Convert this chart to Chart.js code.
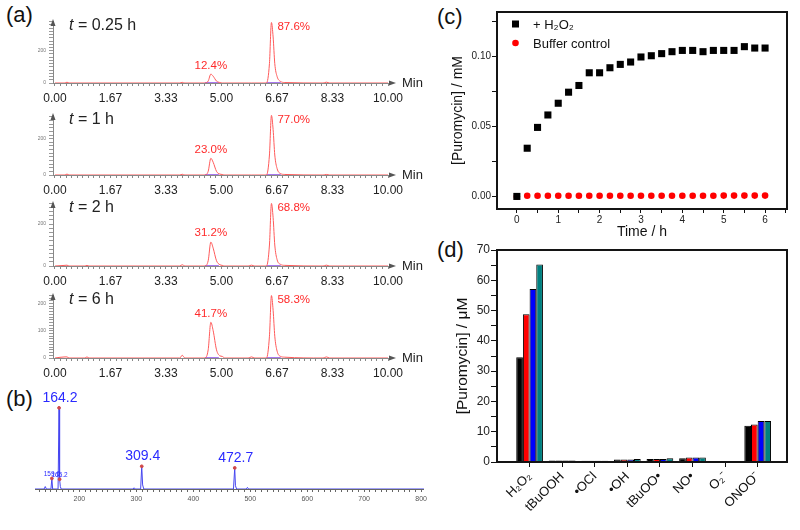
<!DOCTYPE html>
<html>
<head>
<meta charset="utf-8">
<script src="https://cdn.jsdelivr.net/npm/chart.js@4.4.0/dist/chart.umd.min.js"></script>
<style>
  html, body { margin: 0; padding: 0; background: #fff; }
  #fig { position: relative; width: 800px; height: 530px; overflow: hidden;
         font-family: "Liberation Sans", Arial, sans-serif; }
  #fig canvas { position: absolute; }
  .tag { position: absolute; font-size: 22px; line-height: 1; color: #111; }
</style>
</head>
<body>
<div id="fig">
  <div class="tag" style="left:6px;top:4px">(a)</div>
  <div class="tag" style="left:6px;top:388px">(b)</div>
  <div class="tag" style="left:437px;top:6px">(c)</div>
  <div class="tag" style="left:437px;top:239px">(d)</div>

  <canvas id="chrom0" width="430" height="94" style="left:0;top:11px"></canvas>
  <canvas id="chrom1" width="430" height="92" style="left:0;top:105px"></canvas>
  <canvas id="chrom2" width="430" height="95" style="left:0;top:193px"></canvas>
  <canvas id="chrom3" width="430" height="95" style="left:0;top:285px"></canvas>
  <canvas id="spectrum" width="430" height="113" style="left:0;top:392px"></canvas>
  <canvas id="panelC" width="380" height="245" style="left:420px;top:0"></canvas>
  <canvas id="panelD" width="380" height="290" style="left:420px;top:240px"></canvas>
</div>

<script>
/* ---------- (a) HPLC traces ---------- */
const CHROM_TIME = [0, 0.3, 0.36, 0.42, 0.9, 0.96, 1.02, 3.75, 3.82, 3.9,
  4.5, 4.6, 4.68, 4.75, 4.85, 4.95, 5.02, 5.1, 5.8, 5.9, 6.0,
  6.35, 6.44, 6.5, 6.55, 6.6, 6.67, 6.77, 6.9, 8.05, 8.15, 8.25, 10];
const TRACE_025H = [0, 0, 5, 0, 0, 0, 0, 0, 4, 0, 0, 12, 55, 42, 12, 3, 0, 0, 0, 0, 0, 0, 120, 375, 285, 120, 40, 10, 3, 0, 5, 0, 0];
const TRACE_1H   = [0, 0, 5, 0, 0, 0, 0, 0, 4, 0, 0, 20, 92, 70, 20, 5, 3, 0, 0, 0, 0, 0, 110, 328, 250, 110, 35, 8, 3, 0, 3, 0, 0];
const TRACE_2H   = [0, 3, 4, 0, 0, 3, 0, 0, 6, 0, 0, 25, 114, 85, 25, 6, 3, 0, 0, 4, 0, 0, 100, 298, 230, 100, 30, 8, 3, 0, 4, 0, 0];
const TRACE_6H   = [0, 4, 4, 0, 0, 4, 0, 0, 10, 0, 0, 30, 131, 100, 30, 8, 6, 0, 0, 4, 0, 0, 80, 229, 175, 80, 25, 6, 3, 0, 4, 0, 0];
const TRACES = [TRACE_025H, TRACE_1H, TRACE_2H, TRACE_6H];
const TRACE_HOURS = ['0.25', '1', '2', '6'];
const PEAK1_PCT = ['12.4%', '23.0%', '31.2%', '41.7%'];
const PEAK2_PCT = ['87.6%', '77.0%', '68.8%', '58.3%'];
const PEAK_TIMES = [4.68, 6.5];
const INTEG_WINDOWS = [[4.5, 4.92], [6.35, 6.78]];
const CHROM_X_LABELS = ['0.00', '1.67', '3.33', '5.00', '6.67', '8.33', '10.00'];
const CHROM_Y_MAX = [384, 330, 300, 231];
const CHROM_Y_MINOR = [20, 20, 20, 10];
const CHROM_Y_LABEL_STEP = [200, 200, 200, 100];

/* ---------- (b) mass spectrum ---------- */
const MS_MZ  = [122, 138, 140, 142, 150, 151.6, 153, 162.5, 164.2, 165.2, 166.5, 168, 294, 296, 298, 307.5, 309.4, 311, 313, 470.5, 472.7, 474, 476, 493, 495, 497, 805];
const MS_INT = [0, 0, 3, 0, 0, 13, 0, 0, 100, 12, 3, 0, 0, 1.5, 0, 0, 28, 5, 0, 0, 26, 4, 0, 0, 2, 0, 0];
const MS_PEAK_MZ = [151.6, 164.2, 165.2, 309.4, 472.7];
const MS_PEAK_INT = [13, 100, 12, 28, 26];
const MS_PEAK_LABELS = ['159.6', '164.2', '165.2', '309.4', '472.7'];
const MS_X_LABELS = ['200', '300', '400', '500', '600', '700', '800'];

/* ---------- (c) kinetics ---------- */
const TIME_H = [0, 0.25, 0.5, 0.75, 1, 1.25, 1.5, 1.75, 2, 2.25, 2.5, 2.75, 3, 3.25, 3.5, 3.75, 4, 4.25, 4.5, 4.75, 5, 5.25, 5.5, 5.75, 6];
const H2O2_MM = [0, 0.0345, 0.0494, 0.0583, 0.0667, 0.0746, 0.0794, 0.0885, 0.0885, 0.0921, 0.0945, 0.0962, 0.0998,
  0.1007, 0.1022, 0.1036, 0.1045, 0.1045, 0.1036, 0.1045, 0.1045, 0.1045, 0.1072, 0.1062, 0.1062];
const BUFFER_MM = [0, 0.0005, 0.0005, 0.0005, 0.0005, 0.0005, 0.0005, 0.0005, 0.0005, 0.0005, 0.0005, 0.0005, 0.0005,
  0.0005, 0.0005, 0.0005, 0.0005, 0.0005, 0.0005, 0.0005, 0.0006, 0.0006, 0.0006, 0.0006, 0.0006];
const C_Y_LABELS = ['0.00', '0.05', '0.10'];

/* ---------- (d) selectivity ---------- */
const ANALYTES = ['H\u2082O\u2082', 'tBuOOH', '\u2022OCl', '\u2022OH', 'tBuOO\u2022', 'NO\u2022', 'O\u2082\u207B', 'ONOO\u207B'];
const SET_1 = [34.6, 0.5, 0.4, 0.8, 1.0, 1.2, 0.3, 12.0];
const SET_2 = [48.8, 0.5, 0.4, 0.8, 1.0, 1.5, 0.3, 12.4];
const SET_3 = [57.1, 0.5, 0.4, 0.8, 1.0, 1.5, 0.3, 13.5];
const SET_4 = [65.2, 0.5, 0.4, 1.0, 1.2, 1.5, 0.3, 13.5];
const BAR_SETS = [SET_1, SET_2, SET_3, SET_4];
const BAR_SET_NAMES = ['Set 1', 'Set 2', 'Set 3', 'Set 4'];
const BAR_COLORS = ['#000000', '#ff0000', '#0000ff', '#008080'];

const FONT = '"Liberation Sans", Arial, sans-serif';

function range(min, max, step) {
  const out = [];
  const n = Math.round((max - min) / step);
  for (let i = 0; i <= n; i++) out.push(+(min + i * step).toFixed(6));
  return out;
}

function setTicks(values) {
  return scale => { scale.ticks = values.map(v => ({ value: v })); };
}

/* ---------- plugins ---------- */
const chromDeco = {
  id: 'chromDeco',
  afterDraw(chart, args, opts) {
    const { ctx, chartArea: a, scales: { x, y } } = chart;
    const k = opts.k;
    ctx.save();
    // axis arrows
    ctx.fillStyle = '#555';
    ctx.beginPath();
    ctx.moveTo(a.left, a.top - 2);
    ctx.lineTo(a.left - 2.5, a.top + 5);
    ctx.lineTo(a.left + 2.5, a.top + 5);
    ctx.fill();
    ctx.beginPath();
    ctx.moveTo(a.right + 6, a.bottom);
    ctx.lineTo(a.right - 1, a.bottom - 2.5);
    ctx.lineTo(a.right - 1, a.bottom + 2.5);
    ctx.fill();
    ctx.fillStyle = '#222';
    ctx.font = '13px ' + FONT;
    ctx.textBaseline = 'middle';
    ctx.fillText('Min', a.right + 12, a.bottom);

    // "t = ... h" with italic t
    ctx.font = 'italic 16px ' + FONT;
    const tx = a.left + 16, ty = a.top + 5;
    ctx.fillText('t', tx, ty);
    const w = ctx.measureText('t').width;
    ctx.font = '16px ' + FONT;
    ctx.fillText(' = ' + TRACE_HOURS[k] + ' h', tx + w, ty);

    // peak percentages
    const trace = TRACES[k];
    const p1 = trace[CHROM_TIME.indexOf(PEAK_TIMES[0])];
    const p2 = trace[CHROM_TIME.indexOf(PEAK_TIMES[1])];
    ctx.fillStyle = '#ff2a2a';
    ctx.font = '11.5px ' + FONT;
    ctx.textAlign = 'center';
    ctx.textBaseline = 'bottom';
    ctx.fillText(PEAK1_PCT[k], x.getPixelForValue(PEAK_TIMES[0]), y.getPixelForValue(p1) - 3);
    ctx.textAlign = 'left';
    ctx.textBaseline = 'middle';
    ctx.fillText(PEAK2_PCT[k], x.getPixelForValue(PEAK_TIMES[1]) + 6, y.getPixelForValue(p2) + 4);
    ctx.restore();
  }
};

const specDeco = {
  id: 'specDeco',
  afterDraw(chart) {
    const { ctx, scales: { x, y } } = chart;
    ctx.save();
    ctx.fillStyle = '#2a2aff';
    ctx.textAlign = 'center';
    ctx.textBaseline = 'bottom';
    MS_PEAK_MZ.forEach((mz, i) => {
      const big = MS_PEAK_INT[i] > 20;
      ctx.font = (big ? '14px ' : '6.5px ') + FONT;
      ctx.fillText(MS_PEAK_LABELS[i], x.getPixelForValue(mz) + (big ? 1 : 0), y.getPixelForValue(MS_PEAK_INT[i]) - (big ? 3 : 1));
    });
    ctx.restore();
  }
};

// plot box as four filled 2px strips on whole pixels
const boxFrame = {
  id: 'boxFrame',
  afterDraw(chart) {
    const { ctx, chartArea } = chart;
    const l = Math.round(chartArea.left), r = Math.round(chartArea.right);
    const t = Math.round(chartArea.top), b = Math.round(chartArea.bottom);
    ctx.save();
    ctx.fillStyle = '#141414';
    ctx.fillRect(l - 1, t - 1, r - l + 2, 2);
    ctx.fillRect(l - 1, b - 1, r - l + 2, 2);
    ctx.fillRect(l - 1, t - 1, 2, b - t + 2);
    ctx.fillRect(r - 1, t - 1, 2, b - t + 2);
    ctx.restore();
  }
};

const kineticsLegend = {
  id: 'kineticsLegend',
  afterDraw(chart) {
    const { ctx, chartArea: a } = chart;
    ctx.save();
    ctx.fillStyle = '#000';
    ctx.fillRect(a.left + 15, a.top + 8.5, 7, 7);
    ctx.fillStyle = '#ff0000';
    ctx.beginPath();
    ctx.arc(a.left + 18.5, a.top + 31, 3.3, 0, Math.PI * 2);
    ctx.fill();
    ctx.fillStyle = '#111';
    ctx.font = '13px ' + FONT;
    ctx.textBaseline = 'middle';
    ctx.fillText('+ H\u2082O\u2082', a.left + 36, a.top + 13);
    ctx.fillText('Buffer control', a.left + 36, a.top + 32);
    ctx.restore();
  }
};

/* ---------- (a) charts ---------- */
function createChromChart(k) {
  const trace = TRACES[k];
  const integ = [];
  INTEG_WINDOWS.forEach(win => {
    integ.push({ x: win[0], y: 0 }, { x: win[1], y: 0 }, { x: win[1], y: null });
  });
  const xTicks = range(0, 60, 1).map(i => i / 6);
  const yTicks = range(0, CHROM_Y_MAX[k], CHROM_Y_MINOR[k]).filter(v => v <= CHROM_Y_MAX[k]);

  return new Chart(document.getElementById('chrom' + k), {
    type: 'line',
    data: {
      datasets: [
        { data: CHROM_TIME.map((t, i) => ({ x: t, y: trace[i] })), borderColor: '#ff5a5a', borderWidth: 1,
          pointRadius: 0, cubicInterpolationMode: 'monotone' },
        { data: integ, borderColor: '#a878ee', borderWidth: 2, pointRadius: 0, spanGaps: false }
      ]
    },
    options: {
      responsive: false,
      animation: false,
      layout: { padding: { top: 10, right: 40, left: 0, bottom: 0 } },
      plugins: { legend: { display: false }, tooltip: { enabled: false }, chromDeco: { k } },
      scales: {
        x: {
          type: 'linear', min: -0.06, max: 10.06,
          afterBuildTicks: setTicks(xTicks),
          afterFit: s => { s.height = 22; },
          grid: { drawOnChartArea: false, tickLength: 3, color: '#888' },
          border: { color: '#888' },
          ticks: {
            autoSkip: false, maxRotation: 0, padding: 5, color: '#222',
            font: { size: 12, family: FONT },
            callback: (v, i) => (i % 10 === 0 ? CHROM_X_LABELS[i / 10] : '')
          }
        },
        y: {
          min: 0, max: CHROM_Y_MAX[k],
          afterBuildTicks: setTicks(yTicks),
          afterFit: s => { s.width = 53; },
          grid: { drawOnChartArea: false, tickLength: 4, color: '#999' },
          border: { color: '#888' },
          ticks: {
            autoSkip: false, padding: 3, color: '#777',
            font: { size: 5, family: FONT },
            callback: v => (v % CHROM_Y_LABEL_STEP[k] === 0 ? String(v) : '')
          }
        }
      }
    },
    plugins: [chromDeco]
  });
}
[0, 1, 2, 3].forEach(createChromChart);

/* ---------- (b) chart ---------- */
new Chart(document.getElementById('spectrum'), {
  type: 'line',
  data: {
    datasets: [
      { data: MS_PEAK_MZ.map((m, i) => ({ x: m, y: MS_PEAK_INT[i] })), showLine: false,
        pointRadius: 1.4, pointBackgroundColor: '#d04848', pointBorderColor: '#d04848' },
      { data: MS_MZ.map((m, i) => ({ x: m, y: MS_INT[i] })), borderColor: '#4646f0', borderWidth: 1,
        pointRadius: 0, tension: 0 }
    ]
  },
  options: {
    responsive: false,
    animation: false,
    layout: { padding: { top: 4, right: 5, left: 35, bottom: 0 } },
    plugins: { legend: { display: false }, tooltip: { enabled: false } },
    scales: {
      x: {
        type: 'linear', min: 122, max: 805,
        afterBuildTicks: setTicks(range(130, 800, 10)),
        afterFit: s => { s.height = 16; },
        grid: { drawOnChartArea: false, tickLength: 3, color: '#666' },
        border: { color: '#666' },
        ticks: {
          autoSkip: false, maxRotation: 0, padding: 3, color: '#555',
          font: { size: 7, family: FONT },
          callback: v => (v % 100 === 0 ? MS_X_LABELS[v / 100 - 2] : '')
        }
      },
      y: { display: false, min: 0, max: 113.4 }
    }
  },
  plugins: [specDeco]
});

/* ---------- (c) chart ---------- */
new Chart(document.getElementById('panelC'), {
  type: 'scatter',
  data: {
    datasets: [
      { label: '+ H\u2082O\u2082', data: TIME_H.map((t, i) => ({ x: t, y: H2O2_MM[i] })),
        pointStyle: 'rect', pointRadius: 5, backgroundColor: '#000', borderColor: '#000', borderWidth: 0 },
      { label: 'Buffer control', data: TIME_H.map((t, i) => ({ x: t, y: BUFFER_MM[i] })),
        pointStyle: 'circle', pointRadius: 3.3, backgroundColor: '#ff0000', borderColor: '#ff0000', borderWidth: 0 }
    ]
  },
  options: {
    responsive: false,
    animation: false,
    layout: { padding: { top: 12, right: 13, left: 26, bottom: 0 } },
    plugins: { legend: { display: false }, tooltip: { enabled: false } },
    scales: {
      x: {
        min: -0.48, max: 6.53,
        afterBuildTicks: setTicks(range(0, 6.5, 0.5)),
        afterFit: s => { s.height = 36; },
        grid: { drawOnChartArea: false, tickLength: 4, color: '#111' },
        border: { display: false },
        ticks: {
          autoSkip: false, maxRotation: 0, padding: 1, color: '#222',
          font: { size: 10, family: FONT },
          callback: (v, i) => (i % 2 === 0 ? String(v) : '')
        },
        title: { display: true, text: 'Time / h', color: '#111', font: { size: 14, family: FONT } }
      },
      y: {
        min: -0.009, max: 0.132,
        afterBuildTicks: setTicks(range(0, 0.125, 0.025)),
        afterFit: s => { s.width = 51; },
        grid: { drawOnChartArea: false, tickLength: 5, color: '#111' },
        border: { display: false },
        ticks: {
          autoSkip: false, padding: 1, color: '#222',
          font: { size: 10, family: FONT },
          callback: (v, i) => (i % 2 === 0 ? C_Y_LABELS[i / 2] : '')
        },
        title: { display: true, text: '[Puromycin] / mM', color: '#111', font: { size: 14, family: FONT } }
      }
    }
  },
  plugins: [boxFrame, kineticsLegend]
});

/* ---------- (d) chart ---------- */
new Chart(document.getElementById('panelD'), {
  type: 'bar',
  data: {
    datasets: BAR_SETS.map((vals, i) => ({
      label: BAR_SET_NAMES[i],
      data: vals.map((v, j) => ({ x: j, y: v })),
      backgroundColor: BAR_COLORS[i],
      borderColor: '#000',
      borderWidth: 1,
      borderSkipped: 'bottom',
      categoryPercentage: 0.82,
      barPercentage: 1
    }))
  },
  options: {
    responsive: false,
    animation: false,
    layout: { padding: { top: 10, right: 13, left: 29, bottom: 0 } },
    plugins: { legend: { display: false }, tooltip: { enabled: false } },
    scales: {
      x: {
        type: 'linear', min: -1, max: 7.9, offset: false,
        afterBuildTicks: setTicks(range(0, 7, 1)),
        afterFit: s => { s.height = 68; },
        grid: { drawOnChartArea: false, offset: false, tickLength: 5, color: '#111' },
        border: { display: false },
        ticks: {
          autoSkip: false, minRotation: 45, maxRotation: 45, padding: 2, color: '#111',
          font: { size: 13, family: FONT },
          callback: v => ANALYTES[v]
        }
      },
      y: {
        min: 0, max: 70,
        afterBuildTicks: setTicks(range(0, 70, 5)),
        afterFit: s => { s.width = 48; },
        grid: { drawOnChartArea: false, tickLength: 6, color: '#111' },
        border: { display: false },
        ticks: {
          autoSkip: false, padding: 1, color: '#222',
          font: { size: 12, family: FONT },
          callback: v => (v % 10 === 0 ? String(v) : '')
        },
        title: { display: true, text: '[Puromycin] / \u03BCM', color: '#111', font: { size: 15.5, family: FONT } }
      }
    }
  },
  plugins: [boxFrame]
});
</script>
</body>
</html>
